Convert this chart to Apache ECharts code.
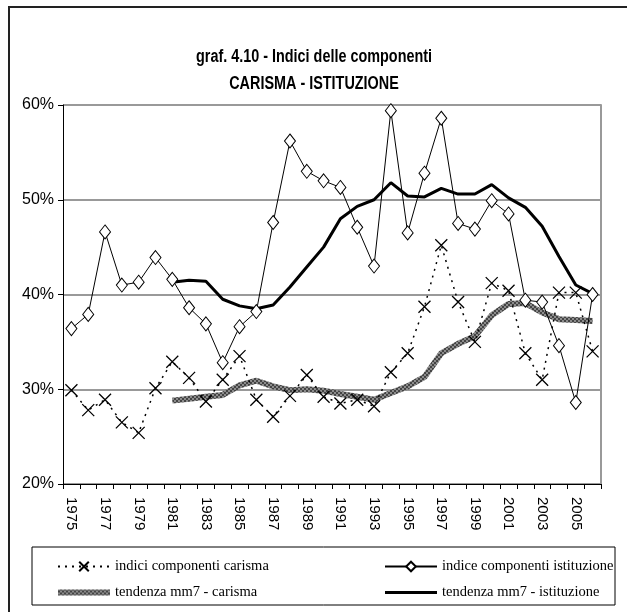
<!DOCTYPE html>
<html>
<head>
<meta charset="utf-8">
<script src="https://cdn.jsdelivr.net/npm/echarts@6/dist/echarts.min.js"></script>
<style>
  html, body { margin: 0; padding: 0; background: #fff; }
  #chart { width: 627px; height: 612px; }
</style>
</head>
<body>
<div id="chart"></div>
<script>
// anni
var years = [];
for (var y = 1975; y <= 2006; y++) years.push(String(y));

// indici componenti carisma (%)
var carisma = [29.9, 27.8, 28.9, 26.5, 25.4, 30.1, 32.9, 31.2, 28.7, 31.0, 33.5, 28.9, 27.1, 29.3, 31.5, 29.2,
  28.5, 28.9, 28.2, 31.8, 33.8, 38.7, 45.2, 39.2, 35.0, 41.2, 40.4, 33.8, 31.0, 40.2, 40.2, 34.0];

// indice componenti istituzione (%)
var istituzione = [36.4, 37.9, 46.6, 41.0, 41.3, 43.9, 41.6, 38.6, 36.9, 32.8, 36.6, 38.2, 47.6, 56.2, 53.0, 52.0,
  51.3, 47.1, 43.0, 59.4, 46.5, 52.8, 58.6, 47.5, 46.9, 49.9, 48.5, 39.4, 39.2, 34.6, 28.6, 40.0];

// tendenza mm7 - carisma
var trendCarisma = [null, null, null, null, null, null, 28.8, 29.0, 29.2, 29.4, 30.4, 30.9, 30.3, 29.9, 30.0, 29.85,
  29.5, 29.2, 28.9, 29.6, 30.3, 31.3, 33.8, 34.8, 35.6, 37.8, 39.0, 39.1, 38.1, 37.4, 37.3, 37.2];

// tendenza mm7 - istituzione
var trendIstituzione = [null, null, null, null, null, null, 41.3, 41.5, 41.4, 39.5, 38.8, 38.5, 38.9, 40.8, 42.9, 45.0,
  48.0, 49.3, 50.0, 51.8, 50.4, 50.3, 51.2, 50.6, 50.6, 51.6, 50.2, 49.2, 47.2, 44.0, 41.0, 40.1];

var yTicks = { min: 20, max: 60, step: 10 };
var titleLines = ['graf. 4.10 - Indici delle componenti', 'CARISMA - ISTITUZIONE'];

// trama grigia della media mobile
var pat = document.createElement('canvas');
pat.width = 4; pat.height = 4;
var pc = pat.getContext('2d');
pc.fillStyle = '#8c8c8c'; pc.fillRect(0, 0, 4, 4);
pc.fillStyle = '#444'; pc.fillRect(0, 0, 2, 2); pc.fillRect(2, 2, 2, 2);

var serif = 'Liberation Serif';
var sans = 'Liberation Sans';

// titolo stretto (tipo Arial Narrow)
function titleText(txt, y) {
  return {
    type: 'text', x: 314, y: y, scaleX: 0.8,
    style: { text: txt, fill: '#000', font: 'bold 18px ' + sans, textAlign: 'center', textVerticalAlign: 'middle' }
  };
}

var chart = echarts.init(document.getElementById('chart'));
chart.setOption({
  animation: false,
  backgroundColor: '#fff',
  graphic: [
    { type: 'rect', shape: { x: 9, y: 7, width: 700, height: 700 },
      style: { fill: 'none', stroke: '#222', lineWidth: 2 } },
    { type: 'rect', shape: { x: 32, y: 547, width: 583, height: 58 },
      style: { fill: 'none', stroke: '#000', lineWidth: 1 } },
    titleText(titleLines[0], 57),
    titleText(titleLines[1], 84)
  ],
  legend: [
    {
      data: [
        'indici componenti carisma',
        { name: 'tendenza mm7 - carisma', icon: 'path://M0,0H52V6H0Z', itemStyle: { color: { image: pat, repeat: 'repeat' } } }
      ],
      orient: 'vertical', left: 52, top: 554, itemGap: 11, itemWidth: 52, itemHeight: 12,
      textStyle: { fontFamily: serif, fontSize: 14.5, color: '#000' }
    },
    {
      data: [
        'indice componenti istituzione',
        { name: 'tendenza mm7 - istituzione', icon: 'path://M0,0H52V3H0Z', itemStyle: { color: '#000' } }
      ],
      orient: 'vertical', left: 379, top: 554, itemGap: 11, itemWidth: 52, itemHeight: 12,
      textStyle: { fontFamily: serif, fontSize: 14.5, color: '#000' }
    }
  ],
  grid: { left: 63, right: 26, top: 105, bottom: 128 },
  xAxis: {
    type: 'category',
    data: years,
    boundaryGap: true,
    axisLine: { lineStyle: { color: '#000', width: 1 } },
    axisTick: { show: true, interval: 0, alignWithLabel: false, length: 5, lineStyle: { color: '#000' } },
    axisLabel: { interval: 1, rotate: -90, margin: 13, fontFamily: sans, fontSize: 15, color: '#000' },
    splitLine: { show: false }
  },
  yAxis: [
    {
      type: 'value', min: yTicks.min, max: yTicks.max, interval: yTicks.step,
      axisLine: { show: true, lineStyle: { color: '#000' } },
      axisTick: { show: true, length: 5, lineStyle: { color: '#000' } },
      axisLabel: { formatter: '{value}%', margin: 9, fontFamily: sans, fontSize: 16, color: '#000' },
      splitLine: { show: true, lineStyle: { color: '#777', width: 1.5 } }
    },
    {
      type: 'value', min: yTicks.min, max: yTicks.max, interval: yTicks.step, position: 'right',
      axisLine: { show: true, lineStyle: { color: '#999', width: 2 } },
      axisTick: { show: false }, axisLabel: { show: false }, splitLine: { show: false }
    }
  ],
  series: [
    {
      name: 'indici componenti carisma',
      type: 'line',
      data: carisma,
      symbol: 'path://M0,0L10,10M10,0L0,10',
      symbolSize: 12,
      showAllSymbol: true,
      itemStyle: { color: '#000', borderColor: '#000', borderWidth: 1.3 },
      lineStyle: { color: '#000', width: 1.5, type: [2, 5] },
      z: 3
    },
    {
      name: 'indice componenti istituzione',
      type: 'line',
      data: istituzione,
      symbol: 'diamond',
      symbolSize: [11, 14],
      showAllSymbol: true,
      itemStyle: { color: '#fff', borderColor: '#000', borderWidth: 1 },
      lineStyle: { color: '#000', width: 1 },
      z: 4
    },
    {
      name: 'tendenza mm7 - carisma',
      type: 'line',
      data: trendCarisma,
      symbol: 'none',
      itemStyle: { color: '#777' },
      lineStyle: { color: { image: pat, repeat: 'repeat' }, width: 6 },
      z: 2
    },
    {
      name: 'tendenza mm7 - istituzione',
      type: 'line',
      data: trendIstituzione,
      symbol: 'none',
      itemStyle: { color: '#000' },
      lineStyle: { color: '#000', width: 3 },
      z: 2
    }
  ]
});
</script>
</body>
</html>
